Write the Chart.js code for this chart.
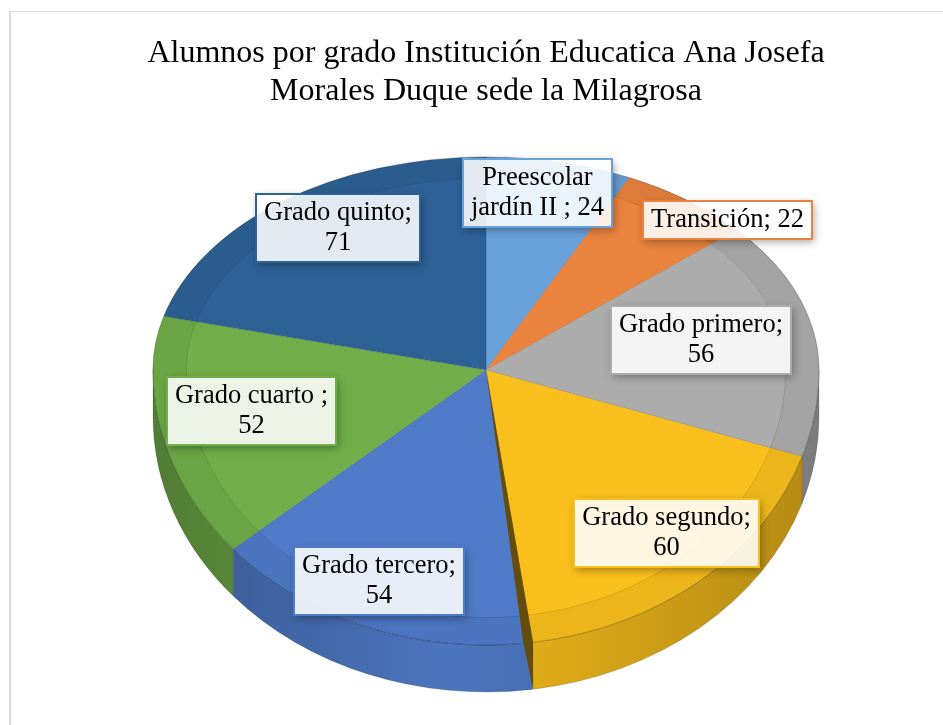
<!DOCTYPE html>
<html>
<head>
<meta charset="utf-8">
<title>Alumnos por grado</title>
<script src="https://cdn.jsdelivr.net/npm/chart.js@4.4.1/dist/chart.umd.min.js"></script>
<style>
  html, body { margin: 0; padding: 0; background: #fff; overflow: hidden; }
  #frame { position: absolute; left: 9px; top: 11px; right: 0; bottom: 0; border-left: 2px solid #d9d9d9; border-top: 1px solid #d9d9d9; }
  #pie { position: absolute; left: 0; top: 0; }
</style>
</head>
<body>
<div id="frame"></div>
<canvas id="pie" width="943" height="725"></canvas>
<script>
var grados = ["Preescolar jardín II ", "Transición", "Grado primero", "Grado segundo", "Grado tercero", "Grado cuarto ", "Grado quinto"];
var alumnos = [24, 22, 56, 60, 54, 52, 71];
var colores = ["#69a1db", "#e9833e", "#acacac", "#f9bf1c", "#4f7bc8", "#71ad48", "#2e6196"];
var titulo = ["Alumnos por grado Institución Educatica Ana Josefa", "Morales Duque sede la Milagrosa"];

var serif = "'Liberation Serif', 'Times New Roman', serif";

function shade(hex, f) {
    var n = parseInt(hex.slice(1), 16);
    var c = [(n >> 16) & 255, (n >> 8) & 255, n & 255].map(function (v) {
        return Math.min(255, Math.round(v * f));
    });
    return "rgb(" + c.join(",") + ")";
}

function wrapText(ctx, text, maxW) {
    var words = text.split(" ").filter(function (w) { return w.length; });
    var lines = [], cur = "";
    words.forEach(function (w) {
        var t = cur ? cur + " " + w : w;
        if (cur && ctx.measureText(t).width > maxW) {
            lines.push(cur);
            cur = w;
        } else {
            cur = t;
        }
    });
    if (cur) lines.push(cur);
    return lines;
}

// tilt transform: far half is flatter than near half (rough perspective)
function tiltTo(ctx, arc, opts, k) {
    ctx.translate(arc.x, opts.apexY);
    ctx.scale(1, k);
    ctx.translate(-arc.x, -arc.y);
}

function bevel(ctx, arcs) {
    arcs.forEach(function (arc) {
        var r = arc.outerRadius, ri = r * 0.9;
        ctx.beginPath();
        ctx.arc(arc.x, arc.y, r, arc.startAngle, arc.endAngle);
        ctx.arc(arc.x, arc.y, ri, arc.endAngle, arc.startAngle, true);
        ctx.closePath();
        ctx.fillStyle = "rgba(0,0,0,0.05)";
        ctx.fill();
        ctx.beginPath();
        ctx.arc(arc.x, arc.y, ri, arc.startAngle, arc.endAngle);
        ctx.strokeStyle = "rgba(0,0,0,0.12)";
        ctx.lineWidth = 1;
        ctx.stroke();
    });
    var a = arcs[0];
    ctx.beginPath();
    ctx.arc(a.x, a.y, a.outerRadius, 0, Math.PI * 2);
    ctx.strokeStyle = "rgba(0,0,0,0.18)";
    ctx.lineWidth = 1;
    ctx.stroke();
}

var pie3d = {
    id: "pie3d",
    beforeDatasetsDraw: function (chart, args, opts) {
        var ctx = chart.ctx;
        var arcs = chart.getDatasetMeta(0).data;
        // far half of the top face, drawn by Chart.js itself
        ctx.save();
        ctx.beginPath();
        ctx.rect(0, 0, chart.width, opts.apexY);
        ctx.clip();
        tiltTo(ctx, arcs[0], opts, opts.tiltFar);
    },
    afterDatasetsDraw: function (chart, args, opts) {
        var ctx = chart.ctx;
        var meta = chart.getDatasetMeta(0);
        var arcs = meta.data;
        bevel(ctx, arcs);
        ctx.restore();

        // near half: side wall, then the slices again with a deeper tilt
        var cx = arcs[0].x, cy = arcs[0].y, r = arcs[0].outerRadius;
        var k = opts.tiltNear;
        ctx.save();
        ctx.beginPath();
        ctx.rect(0, opts.apexY, chart.width, chart.height - opts.apexY);
        ctx.clip();
        tiltTo(ctx, arcs[0], opts, k);
        var depth = opts.depth / k;
        arcs.forEach(function (arc, i) {
            var s = Math.max(arc.startAngle, 0), e = Math.min(arc.endAngle, Math.PI);
            if (e <= s) return;
            var col = colores[i];
            var g = ctx.createLinearGradient(cx - r, 0, cx + r, 0);
            g.addColorStop(0, shade(col, 0.72));
            g.addColorStop(0.45, shade(col, 0.95));
            g.addColorStop(1, shade(col, 0.72));
            ctx.beginPath();
            ctx.arc(cx, cy, r, s, e);
            ctx.arc(cx, cy + depth, r, e, s, true);
            ctx.closePath();
            ctx.fillStyle = g;
            ctx.fill();
            ctx.strokeStyle = "rgba(0,0,0,0.15)";
            ctx.lineWidth = 1;
            ctx.stroke();
        });
        meta.controller.draw();
        bevel(ctx, arcs);
        ctx.restore();

        // shaded radial face of a slice whose edge points at the viewer
        arcs.forEach(function (arc, i) {
            var e = arc.endAngle;
            if (e < Math.PI * 0.28 || e > Math.PI * 0.53) return;
            var x1 = cx + Math.cos(e) * r;
            var y1 = opts.apexY + Math.sin(e) * r * k;
            ctx.beginPath();
            ctx.moveTo(cx, opts.apexY);
            ctx.lineTo(x1 + 1, y1);
            ctx.lineTo(x1 + 1, y1 + opts.depth);
            ctx.lineTo(x1 - 9, y1 - 1);
            ctx.closePath();
            ctx.fillStyle = shade(colores[i], 0.4);
            ctx.fill();
        });
    },
    afterDraw: function (chart, args, opts) {
        var ctx = chart.ctx;
        var arcs = chart.getDatasetMeta(0).data;
        var total = alumnos.reduce(function (s, v) { return s + v; }, 0);
        ctx.font = "26.5px " + serif;
        arcs.forEach(function (arc, i) {
            var mid = (arc.startAngle + arc.endAngle) / 2;
            var frac = alumnos[i] / total < 0.08 ? 0.98 : 0.78;
            var k = Math.sin(mid) < 0 ? opts.tiltFar : opts.tiltNear;
            var shift = opts.labelShift[i] || [0, 0];
            var x = arc.x + Math.cos(mid) * arc.outerRadius * frac + shift[0];
            var y = opts.apexY + Math.sin(mid) * arc.outerRadius * frac * k + shift[1];
            var lines = wrapText(ctx, grados[i] + "; " + alumnos[i], 172);
            var w = 0;
            lines.forEach(function (l) { w = Math.max(w, ctx.measureText(l).width); });
            var lh = 30;
            var bw = Math.round(w + 16), bh = lines.length * lh + 8;
            var bx = Math.round(x - bw / 2), by = Math.round(y - bh / 2);
            // soft shadow outside the box only
            ctx.save();
            ctx.beginPath();
            ctx.rect(0, 0, chart.width, chart.height);
            ctx.rect(bx, by, bw, bh);
            ctx.clip("evenodd");
            ctx.shadowColor = "rgba(0,0,0,0.35)";
            ctx.shadowBlur = 8;
            ctx.shadowOffsetX = 2;
            ctx.shadowOffsetY = 3;
            ctx.fillStyle = "#fff";
            ctx.fillRect(bx, by, bw, bh);
            ctx.restore();
            ctx.fillStyle = "rgba(255,255,255,0.87)";
            ctx.fillRect(bx, by, bw, bh);
            ctx.strokeStyle = colores[i];
            ctx.lineWidth = 2;
            ctx.strokeRect(bx, by, bw, bh);
            ctx.fillStyle = "#000";
            ctx.textAlign = "center";
            ctx.textBaseline = "middle";
            lines.forEach(function (l, n) {
                ctx.fillText(l, bx + bw / 2, by + 4 + lh / 2 + n * lh);
            });
        });
    }
};

var chart = new Chart(document.getElementById("pie"), {
    type: "pie",
    data: {
        labels: grados,
        datasets: [{
            data: alumnos,
            backgroundColor: colores,
            borderWidth: 1,
            borderColor: "rgba(0,0,0,0.12)",
            clip: false
        }]
    },
    options: {
        responsive: false,
        animation: false,
        radius: 333,
        layout: { padding: { left: 29, right: 0, top: 0, bottom: 0 } },
        events: [],
        plugins: {
            legend: { display: false },
            tooltip: { enabled: false },
            title: {
                display: true,
                text: titulo,
                color: "#000",
                font: { family: serif, size: 32, weight: "normal", lineHeight: 1.2 },
                padding: { top: 34, bottom: 0 }
            },
            pie3d: {
                apexY: 370,
                tiltFar: 0.64,
                tiltNear: 0.826,
                depth: 47,
                // Excel "best fit" placement, nudged per label
                labelShift: [[-20, 27], [44, 16], [-40, 3], [14, -2], [-15, 10], [19, -7], [11, -10]]
            }
        }
    },
    plugins: [pie3d]
});
</script>
</body>
</html>
